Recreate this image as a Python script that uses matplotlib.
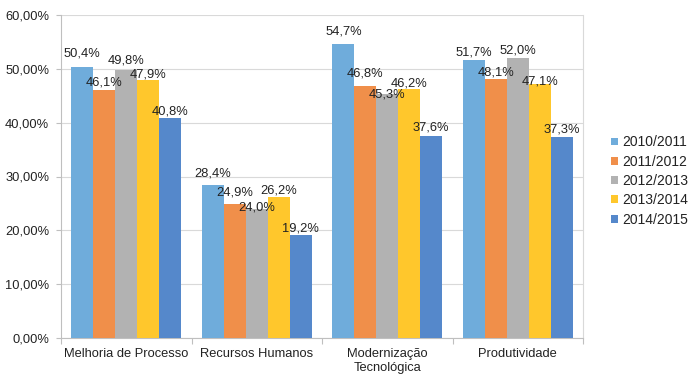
import numpy as np
import matplotlib
matplotlib.use('Agg')
import matplotlib.pyplot as plt
from matplotlib.ticker import FuncFormatter

plt.rcParams['font.family'] = ['Liberation Sans', 'DejaVu Sans']

categories = ['Melhoria de Processo', 'Recursos Humanos', 'Modernização\nTecnológica', 'Produtividade']
series_names = ['2010/2011', '2011/2012', '2012/2013', '2013/2014', '2014/2015']
v_2010 = [50.4, 28.4, 54.7, 51.7]
v_2011 = [46.1, 24.9, 46.8, 48.1]
v_2012 = [49.8, 24.0, 45.3, 52.0]
v_2013 = [47.9, 26.2, 46.2, 47.1]
v_2014 = [40.8, 19.2, 37.6, 37.3]
values = [v_2010, v_2011, v_2012, v_2013, v_2014]

colors = ['#6FACDB', '#F08F4A', '#B2B2B2', '#FFC72C', '#5588CB']
# label lift above bar top (pixels), to mimic excel's overlap shuffling
lift = [[13, 12, 12, 7],
        [7, 11, 13, 7],
        [9, 1, 0, 8],
        [6, 6, 6, 3],
        [7, 6, 8, 8]]

fs = 9.3

fig = plt.figure(figsize=(6.96, 3.86), dpi=100)
ax = fig.add_axes([61/696, 1-338/386, (583-61)/696, (338-15)/386])

x = np.arange(len(categories))
w = 0.168
for i, (name, vals) in enumerate(zip(series_names, values)):
    pos = x + (i - 2) * w
    ax.bar(pos, vals, width=w, color=colors[i], label=name, zorder=3)
    for j, v in enumerate(vals):
        ax.annotate(('%.1f%%' % v).replace('.', ','), (pos[j], v),
                    xytext=(0, lift[i][j] * 0.72), textcoords='offset points',
                    ha='center', va='center', fontsize=fs, color='#222222', zorder=4)

ax.set_xlim(-0.5, len(categories) - 0.5)
ax.set_ylim(0, 60)
ax.set_yticks(np.arange(0, 61, 10))
ax.yaxis.set_major_formatter(FuncFormatter(lambda v, p: ('%.2f%%' % v).replace('.', ',')))
ax.grid(axis='y', color='#D9D9D9', linewidth=0.8, zorder=0)

ax.set_xticks(x)
ax.set_xticklabels(categories)
ax.set_xticks(np.arange(-0.5, len(categories)), minor=True)
ax.tick_params(axis='x', which='major', length=0, pad=7, labelsize=fs, labelcolor='#222222')
ax.tick_params(axis='x', which='minor', length=4, color='#BFBFBF', width=0.8)
ax.tick_params(axis='y', length=3.5, color='#BFBFBF', width=0.8, pad=5, labelsize=fs, labelcolor='#222222')

ax.spines['top'].set_visible(False)
for s in ['left', 'bottom', 'right']:
    ax.spines[s].set_color('#BFBFBF')
    ax.spines[s].set_linewidth(0.8)
ax.spines['right'].set_color('#D9D9D9')

fig.legend(loc='center left', bbox_to_anchor=(611/696, 1-181/386), frameon=False,
           fontsize=10, handlelength=0.5, handleheight=0.5, handletextpad=0.3,
           labelspacing=0.38, labelcolor='#222222', borderpad=0, borderaxespad=0)

fig.savefig('out.png', dpi=100)
